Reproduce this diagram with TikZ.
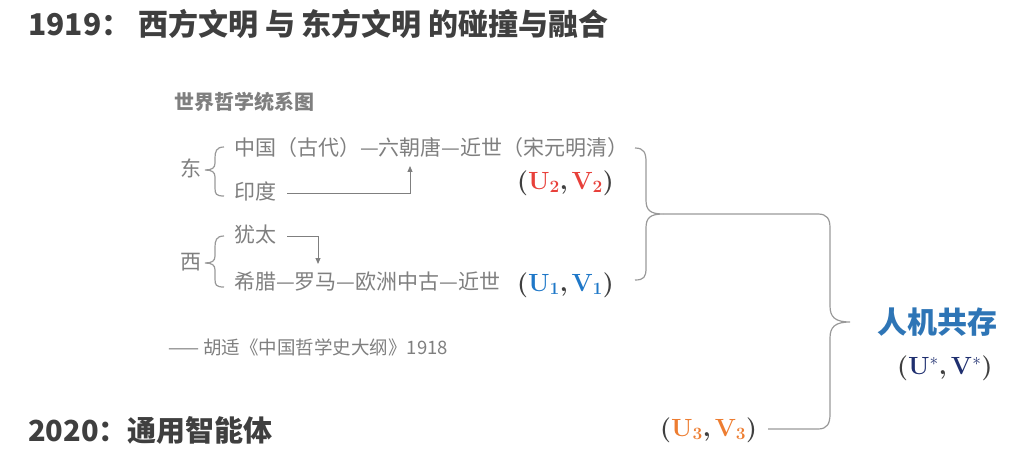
\documentclass[tikz,border=0pt]{standalone}
\usepackage{amsmath}
\usepackage[no-math]{fontspec}
\setmainfont{Noto Sans CJK SC}
\usetikzlibrary{arrows.meta}
\definecolor{tg}{HTML}{3F3F3F}
\definecolor{lg}{HTML}{7F7F7F}
\definecolor{bl}{HTML}{2E75B6}
\definecolor{rd}{HTML}{E8403A}
\definecolor{lb}{HTML}{1F78C8}
\definecolor{og}{HTML}{ED7D31}
\definecolor{nv}{HTML}{1F2F6F}
\newcommand{\fs}[1]{\fontsize{#1}{#1}\selectfont}
\newcommand{\UV}[3]{\textcolor{tg}{$\boldsymbol{(}$}{\color{#1}$\mathbf{U}_{\mathbf{#2}}$}\textcolor{tg}{$\boldsymbol{,}$}\,{\color{#1}$\mathbf{V}_{\mathbf{#3}}$}\textcolor{tg}{$\boldsymbol{)}$}}
\begin{document}
\begin{tikzpicture}[x=1pt,y=-1pt,
  txt/.style={anchor=west,inner sep=0,text=lg,font=\fs{21}},
  ln/.style={draw=lg!80,line width=1.2pt},
  ar/.style={draw=lg,line width=1pt,-{Triangle[length=6pt,width=5pt]}}]
\useasboundingbox (0,0) rectangle (1024,473);
\node[anchor=west,inner sep=0,text=tg,font=\fs{30}\bfseries] (t1) at (28,24) {1919： 西方文明 与 东方文明 的碰撞与融合};
\node[anchor=west,inner sep=0,text=lg,font=\fs{20}\bfseries] (sub) at (174,102) {世界哲学统系图};
\node[txt] (zg) at (234,148) {中国（古代）—六朝唐—近世（宋元明清）};
\node[txt] (yd) at (234,191) {印度};
\node[txt] (yt) at (234,235) {犹太};
\node[txt] (xl) at (234,282) {希腊—罗马—欧洲中古—近世};
\node[txt] (dong) at (180,168) {东};
\node[txt] (xi) at (180,262) {西};
\node[anchor=west,inner sep=0,font=\fs{23}] (uv2) at (517,183) {\UV{rd}{2}{2}};
\node[anchor=west,inner sep=0,font=\fs{23}] (uv1) at (517,285) {\UV{lb}{1}{1}};
\node[anchor=west,inner sep=0,text=lg,font=\fs{18.5}] (hs) at (168,347) {—— 胡适《中国哲学史大纲》1918};
\node[anchor=west,inner sep=0,text=tg,font=\fs{29}\bfseries] (t2) at (28,430) {2020：通用智能体};
\node[anchor=west,inner sep=0,text=bl,font=\fs{30}\bfseries] (rj) at (877,322) {人机共存};
\node[anchor=west,inner sep=0,font=\fs{25}] (uvs) at (897,368) {\textcolor{tg}{$\boldsymbol{(}$}{\color{nv}$\mathbf{U}^{*}$}\textcolor{tg}{$\boldsymbol{,}$}\,{\color{nv}$\mathbf{V}^{*}$}\textcolor{tg}{$\boldsymbol{)}$}};
\node[anchor=west,inner sep=0,font=\fs{24}] (uv3) at (660,430) {\UV{og}{3}{3}};
% small braces
\draw[ln] (224,147) .. controls (216,147) and (215,152) .. (215,158) -- (215,163) .. controls (215,168) and (212,170) .. (205,170)
          (205,170) .. controls (212,170) and (215,172) .. (215,177) -- (215,188) .. controls (215,194) and (216,196) .. (224,196);
\draw[ln] (224,236) .. controls (216,236) and (215,241) .. (215,247) -- (215,256) .. controls (215,261) and (212,263) .. (205,263)
          (205,263) .. controls (212,263) and (215,265) .. (215,270) -- (215,279) .. controls (215,285) and (216,287) .. (224,287);
% arrows
\draw[ar] (287,193) -- (410,193) -- (410,166);
\draw[ar] (287,236) -- (318,236) -- (318,264);
% big brace 1
\coordinate (b1) at (663,214);
\draw[ln] (635,148) .. controls (644,148) and (646,153) .. (646,162) -- (646,200) .. controls (646,210) and (650,214) .. (b1)
          (b1) .. controls (650,214) and (646,218) .. (646,228) -- (646,268) .. controls (646,277) and (644,280) .. (635,280);
% big brace 2
\coordinate (b2) at (850,322);
\draw[ln] (b1) -- (818,214) .. controls (827,214) and (830,219) .. (830,228) -- (830,306) .. controls (830,317) and (835,322) .. (b2)
          (b2) .. controls (835,322) and (830,327) .. (830,338) -- (830,414) .. controls (830,424) and (827,429) .. (818,429) -- (768,429);
\end{tikzpicture}
\end{document}
